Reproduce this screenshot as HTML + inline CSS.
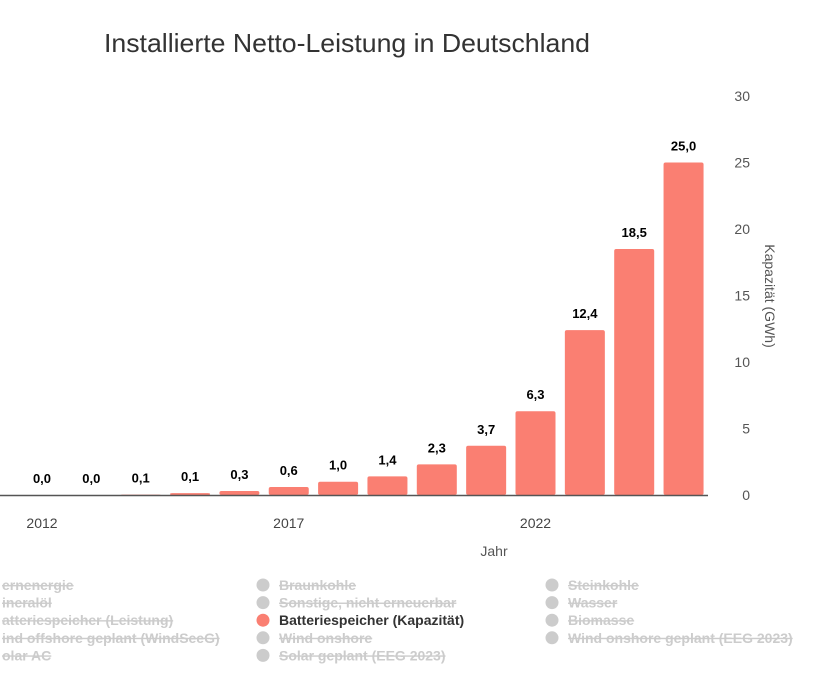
<!DOCTYPE html>
<html><head><meta charset="utf-8"><style>
body{margin:0;background:#fff;width:827px;height:682px;overflow:hidden;font-family:"Liberation Sans",sans-serif}
svg text{font-family:"Liberation Sans",sans-serif}
.leg{font-family:"Liberation Sans Narrow","Liberation Sans",sans-serif;font-weight:bold;font-size:14px}
</style></head><body>
<svg id="c" width="827" height="682">
<text x="347" y="52" text-anchor="middle" font-size="26" textLength="486" lengthAdjust="spacingAndGlyphs" fill="#333">Installierte Netto-Leistung  in Deutschland</text>
<text x="765" y="296" transform="rotate(90 765 296)" text-anchor="middle" font-size="14" fill="#555">Kapazität (GWh)</text>
<text x="494" y="556" text-anchor="middle" font-size="14" fill="#555">Jahr</text>
<g id="bars"></g>
<line x1="0" y1="495.5" x2="708" y2="495.5" stroke="#555" stroke-width="1.5"/>
</svg>
<script>
const years=[2012,2013,2014,2015,2016,2017,2018,2019,2020,2021,2022,2023,2024,2025];
const values=[0.0,0.0,0.03,0.14,0.3,0.6,1.0,1.4,2.3,3.7,6.3,12.4,18.5,25.0];
const labels=["0,0","0,0","0,1","0,1","0,3","0,6","1,0","1,4","2,3","3,7","6,3","12,4","18,5","25,0"];
const yTicks=[0,5,10,15,20,25,30];
const xTickYears=[2012,2017,2022];
const legendItems=[["ernenergie","Braunkohle","Steinkohle"],["ineralöl","Sonstige, nicht erneuerbar","Wasser"],["atteriespeicher (Leistung)","Batteriespeicher (Kapazität)","Biomasse"],["ind offshore geplant (WindSeeG)","Wind onshore","Wind onshore geplant (EEG 2023)"],["olar AC","Solar geplant (EEG 2023)",""]];
const NS="http://www.w3.org/2000/svg";
const svg=document.getElementById('c'),g=document.getElementById('bars');
const x=yr=>42+(yr-2012)*49.35;
const y=v=>495-v*(399/30);
function mk(t,a,p){const e=document.createElementNS(NS,t);for(const k in a)e.setAttribute(k,a[k]);(p||svg).appendChild(e);return e;}
yTicks.forEach(t=>{const e=mk('text',{x:750,y:y(t)+5,'text-anchor':'end','font-size':14,fill:'#555'});e.textContent=t;

});
xTickYears.forEach(t=>{const e=mk('text',{x:x(t),y:528,'text-anchor':'middle','font-size':14,fill:'#444'});e.textContent=t;

});
years.forEach((yr,i)=>{const h=495-y(values[i]);
const r=mk('rect',{x:x(yr)-20,y:y(values[i]),width:40,height:Math.max(h,0),rx:2,fill:'#fa7f72'},g);


const t=mk('text',{x:x(yr),y:y(values[i])-12,'text-anchor':'middle','font-size':13,'font-weight':'bold',fill:'#000'});
t.textContent=labels[i];

});
const colX=[-14,263,552];
legendItems.forEach((row,ri)=>row.forEach((s,ci)=>{if(!s)return;const cy=585+ri*17.6;const on=s==="Batteriespeicher (Kapazität)";
const c=mk('circle',{cx:colX[ci],cy:cy,r:6.5,fill:on?'#fa7f72':'#ccc'});


const t=mk('text',{x:colX[ci]+16,y:cy+5,class:'leg',fill:on?'#333':'#ccc','text-decoration':on?'none':'line-through'});
t.textContent=s;

}));
</script>
</body></html>
